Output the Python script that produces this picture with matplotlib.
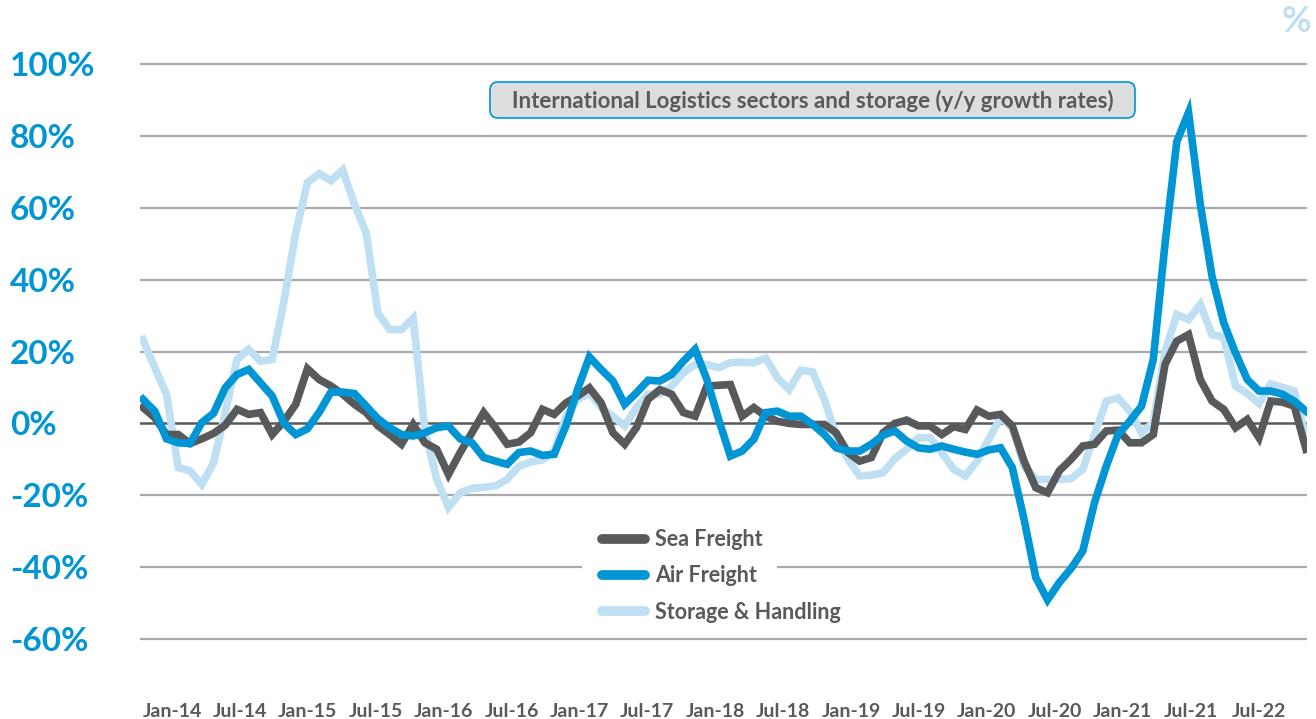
import matplotlib
matplotlib.use("Agg")
import matplotlib.pyplot as plt
import numpy as np
from matplotlib import font_manager
from matplotlib.patches import Rectangle, FancyBboxPatch
from matplotlib.transforms import IdentityTransform

# ================================
# Data (y/y growth, %), monthly
# ================================
sea_freight = [4.4, 1.6, -3.1, -3.1, -5.6, -4.3, -2.8, -0.5, 3.9, 2.5,
               3.0, -3.1, 0.6, 5.3, 15.2, 12.2, 10.4, 8.1, 5.3, 3.0,
               -0.7, -3.1, -5.8, -0.3, -5.4, -7.2, -14.2, -8.1, -2.6, 3.0,
               -1.2, -5.8, -5.2, -2.6, 3.9, 2.5, 5.7, 7.6, 9.9, 5.7,
               -2.6, -5.8, -1.2, 6.7, 9.4, 8.1, 3.0, 2.0, 10.4, 10.6,
               10.8, 2.0, 4.4, 2.0, 0.6, 0.0, -0.3, -0.3, -0.3, -2.6,
               -8.1, -10.5, -9.5, -2.6, 0.0, 0.9, -0.7, -0.7, -3.1, -0.9,
               -1.7, 3.7, 2.0, 2.5, -0.7, -10.5, -17.9, -19.3, -13.2, -10.0,
               -6.3, -5.8, -2.1, -1.9, -5.4, -5.4, -3.1, 16.4, 22.9, 24.7,
               12.2, 6.2, 3.9, -1.2, 1.1, -4.0, 6.2, 5.9, 4.8, -7.2]

air_freight = [6.7, 3.4, -4.3, -5.4, -5.6, 0.2, 2.8, 9.9, 13.6, 15.0,
               11.3, 7.6, 0.0, -3.1, -1.5, 3.1, 8.7, 8.7, 8.3, 4.8,
               1.3, -1.2, -3.1, -3.5, -2.6, -1.2, -0.7, -4.3, -5.4, -9.5,
               -10.5, -11.4, -8.1, -7.7, -8.9, -8.6, -0.7, 9.5, 18.5, 15.0,
               11.8, 5.3, 8.5, 12.0, 11.8, 13.6, 17.3, 20.6, 12.2, 1.1,
               -9.1, -7.7, -4.4, 3.0, 3.4, 2.0, 2.0, -0.3, -3.1, -6.8,
               -7.7, -7.7, -5.8, -3.3, -2.1, -4.9, -6.8, -7.2, -6.3, -7.2,
               -8.0, -8.6, -7.4, -6.8, -12.3, -26.7, -42.9, -49.1, -44.3, -40.4,
               -35.5, -22.0, -11.9, -3.1, 0.6, 4.8, 17.8, 50.0, 78.4, 86.5,
               61.0, 40.9, 28.0, 19.6, 12.2, 9.0, 9.0, 8.1, 6.2, 3.4]

storage = [23.3, 15.5, 8.1, -12.3, -13.2, -17.0, -11.0, 3.0, 17.8, 20.6,
           17.3, 17.8, 34.0, 53.0, 67.0, 69.5, 67.5, 70.5, 61.0, 53.0,
           30.7, 26.1, 26.1, 29.3, -2.0, -15.5, -23.4, -19.3, -18.1, -17.8,
           -17.4, -15.6, -11.9, -10.7, -10.2, -7.7, 1.9, 6.7, 8.5, 4.4,
           2.0, -0.7, 4.4, 8.1, 8.1, 10.4, 14.1, 16.4, 16.4, 15.5,
           16.9, 17.0, 16.9, 18.2, 12.7, 9.4, 14.8, 14.3, 6.7, -3.5,
           -10.0, -14.6, -14.4, -13.7, -9.8, -7.2, -4.0, -4.0, -8.1, -12.8,
           -14.6, -10.5, -4.4, 1.6, -1.2, -11.9, -15.6, -15.6, -15.6, -15.4,
           -12.8, -3.1, 6.2, 7.1, 3.4, -2.6, 0.2, 20.0, 30.3, 28.9,
           33.1, 24.7, 24.0, 10.4, 8.3, 5.5, 11.0, 10.0, 9.0, -4.0]

x_labels = ['Jan-14', 'Jul-14', 'Jan-15', 'Jul-15', 'Jan-16', 'Jul-16', 'Jan-17',
            'Jul-17', 'Jan-18', 'Jul-18', 'Jan-19', 'Jul-19', 'Jan-20', 'Jul-20',
            'Jan-21', 'Jul-21', 'Jul-22']
y_ticks = [-60, -40, -20, 0, 20, 40, 60, 80, 100]

# ================================
# Fonts / colours
# ================================
names = {f.name for f in font_manager.fontManager.ttflist}
main_font = 'Lato' if 'Lato' in names else 'DejaVu Sans'
narrow_font = 'Liberation Sans Narrow' if 'Liberation Sans Narrow' in names else main_font

DARK = '#58595B'
BLUE = '#0095D5'
LIGHT = '#BEE0F2'
GRID = '#A7A9AC'

W, H = 1316, 719
fig = plt.figure(figsize=(W / 100, H / 100), dpi=100)
fig.patch.set_facecolor('white')

# axes placed in pixels: left 140, right 1307, top 60.4, bottom 642.6
ax = fig.add_axes([140 / W, (H - 642.6) / H, 1167 / W, 582.2 / H])

x = np.arange(len(sea_freight))
ax.set_xlim(-0.255, 99.085)
ax.set_ylim(-61, 101)

for v in y_ticks:
    if v != 0:
        ax.axhline(v, color=GRID, lw=1.6, zorder=1)
ax.axhline(0, color=DARK, lw=1.8, zorder=1.5)

# white block behind the legend (breaks the -40% grid line like the original)
ax.add_patch(Rectangle((37.4, -55), 16.6, 28, facecolor='white', edgecolor='none', zorder=1.8))

ax.plot(x, storage, color=LIGHT, lw=5.5, solid_joinstyle='miter', zorder=2, label='Storage & Handling')
ax.plot(x, sea_freight, color=DARK, lw=5.5, solid_joinstyle='miter', zorder=3, label='Sea Freight')
ax.plot(x, air_freight, color=BLUE, lw=5.5, solid_joinstyle='miter', zorder=4, label='Air Freight')

for s in ax.spines.values():
    s.set_visible(False)

ax.set_yticks(y_ticks)
ax.set_yticklabels([f'{v}%' for v in y_ticks])
ax.tick_params(axis='y', length=0, pad=93.6, labelsize=24, labelcolor=BLUE)
for lbl in ax.get_yticklabels():
    lbl.set_ha('left')
    lbl.set_fontweight('bold')
    lbl.set_family(main_font)

tick_pos = 2.47 + 5.78 * np.arange(len(x_labels))
ax.set_xticks(tick_pos)
ax.set_xticklabels(x_labels)
ax.tick_params(axis='x', length=0, pad=43.5, labelsize=14, labelcolor=DARK)
for lbl in ax.get_xticklabels():
    lbl.set_fontweight('bold')
    lbl.set_family(narrow_font)

# legend
handles, labels = ax.get_legend_handles_labels()
order = [1, 2, 0]
leg = ax.legend([handles[i] for i in order], [labels[i] for i in order],
                loc='upper left', bbox_to_anchor=((600 - 140 - 17) / 1167, (642.6 - 510) / 582.2),
                frameon=False, handlelength=2.0, handletextpad=0.45, labelspacing=0.7,
                prop={'family': main_font, 'weight': 'bold', 'size': 15.5})
for t in leg.get_texts():
    t.set_color(DARK)
for lh in leg.get_lines():
    lh.set_linewidth(7)
    lh.set_solid_capstyle('round')

# title box (pixel coordinates)
box = FancyBboxPatch((490, H - 118), 645, 36, boxstyle='round,pad=0,rounding_size=8',
                     fc='#DCDDDE', ec=BLUE, lw=1.2, transform=IdentityTransform(), zorder=5)
fig.add_artist(box)
fig.text(813 / W, 1 - 101 / H, 'International Logistics sectors and storage (y/y growth rates)',
         ha='center', va='center', color=DARK, fontsize=16, fontweight='bold',
         family=main_font, zorder=6)

fig.text(1296 / W, 1 - 21 / H, '%', color=LIGHT, fontsize=26, fontweight='bold',
         family=main_font, ha='center', va='center')

fig.savefig('out.png', dpi=100, facecolor='white')
